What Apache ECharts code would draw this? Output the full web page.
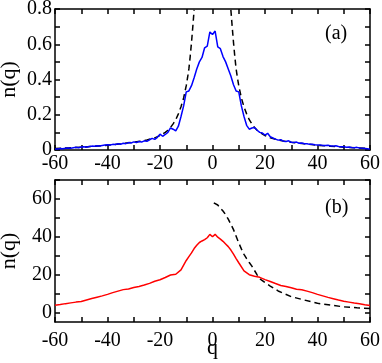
<!DOCTYPE html>
<html>
<head>
<meta charset="utf-8">
<title>n(q)</title>
<script src="https://cdn.jsdelivr.net/npm/echarts@6/dist/echarts.min.js"></script>
<style>
    html, body { margin: 0; padding: 0; background: #fff; }
    #chart { width: 382px; height: 363px; }
</style>
</head>
<body>
<div id="chart"></div>
<script>
// panel (a): q = -60..60 step 1
var qA = [];
for (var i = -60; i <= 60; i++) qA.push(i);
var blueA = [
    0.005,0.006,0.008,0.007,0.010,0.012,0.010,0.013,0.015,0.013,0.017,0.018,0.016,0.020,0.022,0.021,0.024,0.023,0.026,0.028,
    0.030,0.028,0.032,0.031,0.035,0.033,0.038,0.036,0.042,0.040,0.046,0.042,0.048,0.045,0.052,0.049,0.058,0.066,0.060,0.072,
    0.090,0.078,0.088,0.100,0.125,0.118,0.108,0.135,0.190,0.250,0.330,0.335,0.365,0.410,0.460,0.500,0.525,0.580,0.590,0.670,
    0.655,
    0.675,0.585,0.575,0.530,0.500,0.460,0.420,0.370,0.335,0.330,0.250,0.190,0.140,0.118,0.125,0.128,0.112,0.100,0.096,0.085,
    0.095,0.075,0.068,0.062,0.056,0.058,0.050,0.048,0.052,0.044,0.042,0.045,0.038,0.040,0.035,0.036,0.032,0.033,0.030,0.028,
    0.029,0.026,0.025,0.027,0.023,0.022,0.024,0.020,0.019,0.018,0.016,0.017,0.014,0.013,0.015,0.011,0.010,0.009,0.007,0.005
];
// dashed curve (a): left and right branches, each ends where it meets the top of the frame
var dashQLeft = [-60,-55,-50,-45,-40,-35,-30,-27,-25,-22,-20,-18,-17,-16,-15,-14,-13,-12,-11,-10,-9.5,-9,-8.5,-8,-7.5,-7];
var dashLeft = [0.008,0.012,0.016,0.021,0.027,0.035,0.044,0.051,0.057,0.069,0.082,0.100,0.112,0.128,0.148,0.172,0.205,0.245,0.295,0.365,0.41,0.46,0.53,0.61,0.70,0.795];
var dashQRight = [7,7.5,8,8.5,9,9.5,10,11,12,13,14,15,16,17,18,20,22,25,27,30,35,40,45,50,55,60];
var dashRight = [0.795,0.70,0.61,0.53,0.46,0.41,0.365,0.295,0.245,0.205,0.172,0.148,0.128,0.112,0.100,0.082,0.069,0.057,0.051,0.044,0.035,0.027,0.021,0.016,0.012,0.008];

// panel (b)
var qB = [-60,-58,-56,-54,-52,-50,-48,-46,-44,-42,-40,-38,-36,-34,-32,-30,-28,-26,-24,-22,-20,-18,-16,-14,-12,-10,
          -9,-8,-7,-6,-5,-4,-3,-2,-1,0,1,2,3,4,5,6,7,8,9,
          10,12,14,16,18,20,22,24,26,28,30,32,34,36,38,40,42,44,46,48,50,52,54,56,58,60];
var redB = [3.8,4.2,4.7,5.1,5.5,5.8,6.6,7.4,8.1,8.8,9.6,10.5,11.3,12.1,12.4,13.2,13.8,14.5,15.4,16.5,17.3,18.5,19.8,20.2,22.5,27.5,
            29.5,31.5,33.8,35.5,37.0,37.8,38.5,39.5,41.3,40.0,41.3,39.8,38.8,37.6,36.2,34.8,33.0,30.8,28.5,
            26.3,22.0,20.0,19.2,18.6,17.4,16.4,15.3,14.3,13.8,13.1,12.3,12.0,11.3,10.5,9.6,8.8,8.0,7.3,6.6,6.0,5.5,5.0,4.6,4.1,3.7];
var dashQB = [0.5,1,2,3,4,5,6,7,8,9,10,11,12,13,14,15,16,17,18,19,20,22,25,27,30,35,40,45,50,55,60];
var dashB = [57.9,57.6,56.8,55.2,53.6,51.7,49.3,46.6,43.8,40.3,36.8,33.6,30.7,28.5,26.4,24.5,22.2,19.9,17.9,16.8,15.8,14.0,11.4,10.2,8.4,6.6,4.9,3.9,3.0,2.5,2.1];

var xTicks = [-60,-50,-40,-30,-20,-10,0,10,20,30,40,50,60];
var xLabels = [-60,-40,-20,0,20,40,60];
var yTicksA = [0,0.1,0.2,0.3,0.4,0.5,0.6,0.7,0.8];
var yLabelsA = [0,0.2,0.4,0.6,0.8];
var yTicksB = [0,10,20,30,40,50,60,70];
var yLabelsB = [0,20,40,60];

function pairs(xs, ys) {
    var out = [];
    for (var i = 0; i < xs.length; i++) out.push([xs[i], ys[i]]);
    return out;
}

var font = 'Liberation Serif';
var lineBlack = { color: '#000', width: 1.5 };
var dashStyle = { color: '#000', width: 1.5, type: [6, 4] };

function xAxis(grid, pos, showLabel, margin, name) {
    return {
        type: 'value', gridIndex: grid, position: pos, min: -60, max: 60,
        axisLine: { show: true, onZero: false, lineStyle: lineBlack },
        axisTick: { show: true, inside: true, length: 5, lineStyle: lineBlack, customValues: xTicks },
        axisLabel: { show: showLabel, customValues: xLabels, color: '#000', fontFamily: font, fontSize: 20, margin: margin },
        splitLine: { show: false },
        name: name || '', nameLocation: 'middle', nameGap: 15, nameMoveOverlap: false,
        nameTextStyle: { color: '#000', fontFamily: font, fontSize: 22 }
    };
}
function yAxis(grid, pos, showLabel, min, max, ticks, labels) {
    return {
        type: 'value', gridIndex: grid, position: pos, min: min, max: max,
        axisLine: { show: true, onZero: false, lineStyle: lineBlack },
        axisTick: { show: true, inside: true, length: 5, lineStyle: lineBlack, customValues: ticks },
        axisLabel: { show: showLabel, customValues: labels, color: '#000', fontFamily: font, fontSize: 20, margin: 3 },
        splitLine: { show: false },
        name: showLabel ? 'n(q)' : '', nameLocation: 'middle', nameGap: 35, nameRotate: 90, nameMoveOverlap: false,
        nameTextStyle: { color: '#000', fontFamily: font, fontSize: 22 }
    };
}

var chart = echarts.init(document.getElementById('chart'));
chart.setOption({
    animation: false,
    backgroundColor: '#fff',
    grid: [
        { left: 55, right: 12, top: 9, height: 141, outerBoundsMode: 'none' },
        { left: 55, right: 12, top: 180, height: 142, outerBoundsMode: 'none' }
    ],
    xAxis: [
        xAxis(0, 'bottom', true, 4),
        xAxis(0, 'top', false, 4),
        xAxis(1, 'bottom', true, 9, 'q'),
        xAxis(1, 'top', false, 9)
    ],
    yAxis: [
        yAxis(0, 'left', true, 0, 0.8, yTicksA, yLabelsA),
        yAxis(0, 'right', false, 0, 0.8, yTicksA, yLabelsA),
        yAxis(1, 'left', true, -5, 70, yTicksB, yLabelsB),
        yAxis(1, 'right', false, -5, 70, yTicksB, yLabelsB)
    ],
    graphic: [
        { type: 'text', left: 325, top: 24, style: { text: '(a)', font: '20px "Liberation Serif"', fill: '#000' } },
        { type: 'text', left: 325, top: 198, style: { text: '(b)', font: '20px "Liberation Serif"', fill: '#000' } }
    ],
    series: [
        { type: 'line', xAxisIndex: 0, yAxisIndex: 0, data: pairs(qA, blueA), showSymbol: false,
          lineStyle: { color: '#0000ff', width: 1.5 }, z: 3 },
        { type: 'line', xAxisIndex: 0, yAxisIndex: 0, data: pairs(dashQLeft, dashLeft), showSymbol: false,
          lineStyle: dashStyle, z: 2 },
        { type: 'line', xAxisIndex: 0, yAxisIndex: 0, data: pairs(dashQRight, dashRight), showSymbol: false,
          lineStyle: dashStyle, z: 2 },
        { type: 'line', xAxisIndex: 2, yAxisIndex: 2, data: pairs(qB, redB), showSymbol: false,
          lineStyle: { color: '#ff0000', width: 1.5 }, z: 3 },
        { type: 'line', xAxisIndex: 2, yAxisIndex: 2, data: pairs(dashQB, dashB), showSymbol: false,
          lineStyle: dashStyle, z: 2 }
    ]
});
</script>
</body>
</html>
